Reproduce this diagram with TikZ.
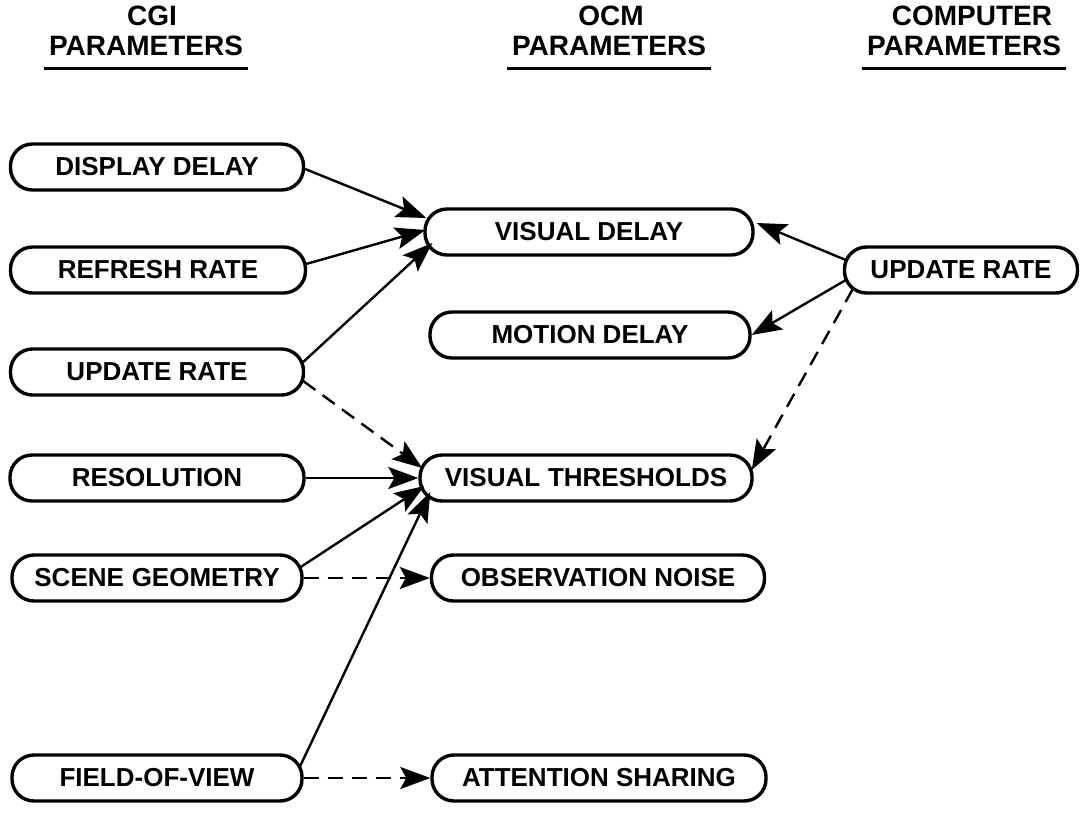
\documentclass[tikz,border=0pt]{standalone}
\usepackage{fontspec}
\setmainfont{Liberation Sans}
\usetikzlibrary{arrows.meta, calc}

\begin{document}
\begin{tikzpicture}[
  x=1pt, y=-1pt,
  pbox/.style={draw=black, line width=3.4pt, rounded corners=22pt, minimum height=46pt, inner sep=0pt, font=\fontsize{26}{30}\selectfont\bfseries},
  head/.style={font=\fontsize{28}{32}\selectfont\bfseries, inner sep=5pt},
  uline/.style={line width=3pt},
  arr/.style={-{Stealth[length=30pt, width=22pt, inset=6pt]}, line width=2.4pt},
  dsh/.style={arr, dash pattern=on 15pt off 9pt}
]
\useasboundingbox (0,0) rectangle (1081,831);

% column heads
\node[head] (cgi) at (152,16) {CGI};
\node[head] (cgip) at (146,46) {PARAMETERS};
\node[head] (ocm) at (611,16) {OCM};
\node[head] (ocmp) at (609,46) {PARAMETERS};
\node[head] (comp) at (972,16) {COMPUTER};
\node[head] (compp) at (964,46) {PARAMETERS};
\draw[uline] ($(cgip.west)+(0,22)$) -- ($(cgip.east)+(0,22)$);
\draw[uline] ($(ocmp.west)+(0,22)$) -- ($(ocmp.east)+(0,22)$);
\draw[uline] ($(compp.west)+(0,22)$) -- ($(compp.east)+(0,22)$);

% CGI parameters
\node[pbox, minimum width=293pt] (dd) at (157,167) {DISPLAY DELAY};
\node[pbox, minimum width=295pt] (rr) at (158,270) {REFRESH RATE};
\node[pbox, minimum width=293pt] (ur) at (157,372) {UPDATE RATE};
\node[pbox, minimum width=294pt] (res) at (157,478) {RESOLUTION};
\node[pbox, minimum width=290pt] (sg) at (157,578) {SCENE\hspace{0.3em}GEOMETRY};
\node[pbox, minimum width=290pt] (fov) at (157,778) {FIELD-OF-VIEW};

% OCM parameters
\node[pbox, minimum width=328pt] (vd) at (589,232) {VISUAL DELAY};
\node[pbox, minimum width=320pt] (md) at (590,335) {MOTION DELAY};
\node[pbox, minimum width=332pt] (vt) at (586,478) {VISUAL\hspace{0.3em}THRESHOLDS};
\node[pbox, minimum width=333pt] (on) at (598,578) {OBSERVATION NOISE};
\node[pbox, minimum width=334pt] (as) at (599,778) {ATTENTION SHARING};

% computer parameters
\node[pbox, minimum width=233pt] (cur) at (961,270) {UPDATE RATE};

\draw[arr] ($(dd.east)+(0,2)$) -- ($(vd.west)+(3,-14)$);
\draw[arr] ($(rr.east)+(-1,-6)$) -- ($(vd.west)+(2,-2)$);
\draw[arr] ($(ur.east)+(-2,-10)$) -- ($(vd.west)+(9,11)$);
\draw[dsh] ($(ur.east)+(-2,9)$) -- ($(vt.west)+(4,-10)$);
\draw[arr] (res.east) -- (vt.west);
\draw[arr] ($(sg.east)+(-3,-11)$) -- ($(vt.west)+(6,8)$);
\draw[arr] ($(fov.east)+(-4,-11)$) -- ($(vt.west)+(12,14)$);
\draw[dsh] (sg.east) -- (on.west);
\draw[dsh] (fov.east) -- (as.west);
\draw[arr] ($(cur.west)+(3,-10)$) -- ($(vd.east)+(2,-9)$);
\draw[arr] ($(cur.west)+(3,10)$) -- ($(md.east)+(0,0)$);
\draw[dsh] ($(cur.west)+(10,19)$) -- ($(vt.east)+(-2,-8)$);
\end{tikzpicture}
\end{document}
